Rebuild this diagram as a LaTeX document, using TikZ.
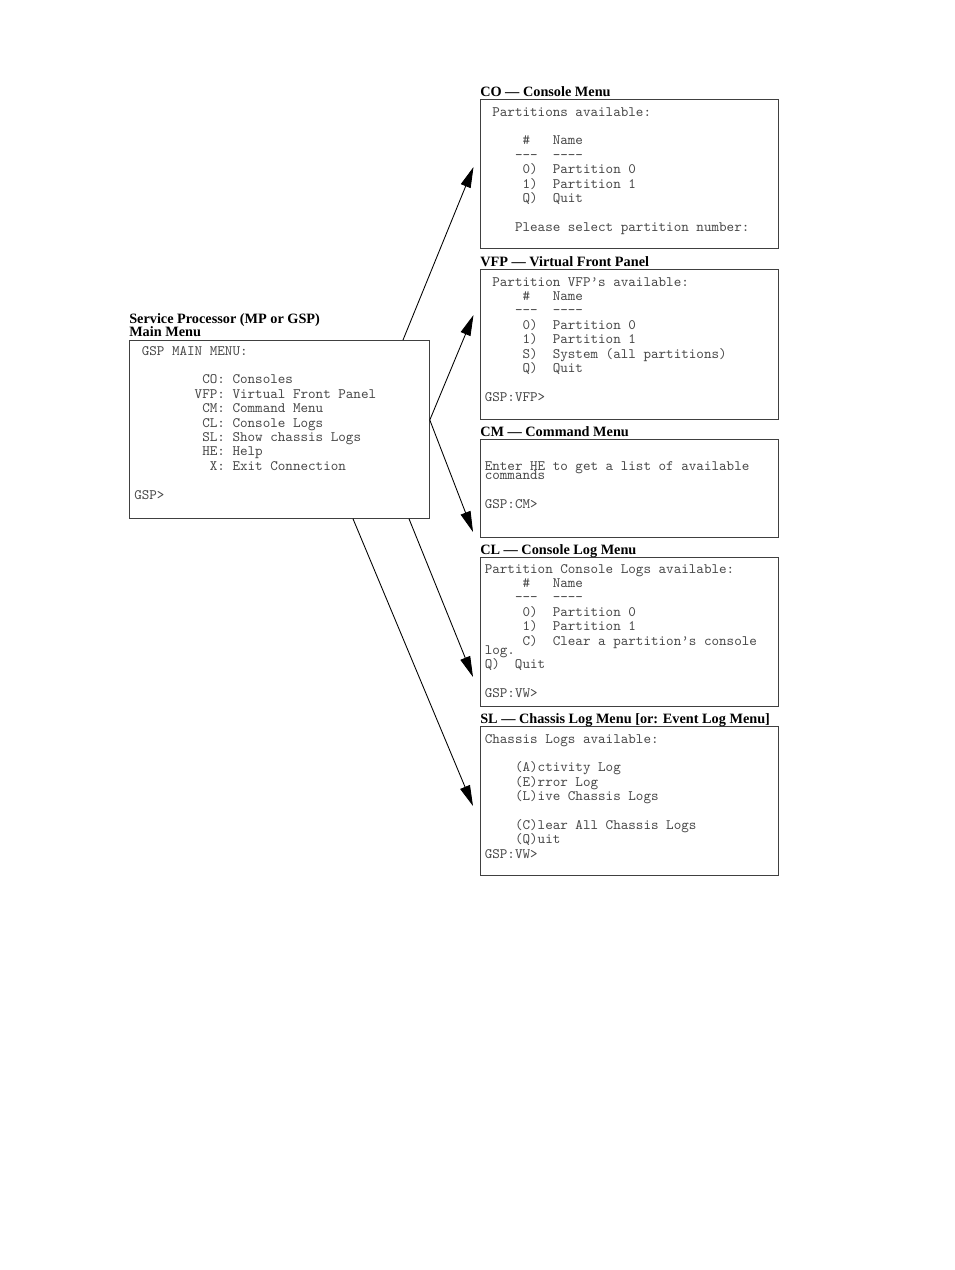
\documentclass[tikz,border=0pt]{standalone}
\usepackage{fontspec}
\setmainfont{Liberation Serif}
\usetikzlibrary{arrows.meta,calc}
\begin{document}
\begin{tikzpicture}[x=0.75pt,y=-0.75pt,
  menubox/.style={draw=black!75,line width=0.6pt,anchor=north west,inner sep=0pt,minimum width=223.5pt},
  ttl/.style={font=\fontsize{10.7}{12}\selectfont\bfseries,anchor=base west,inner sep=0pt},
  mono/.style={font=\ttfamily\fontsize{10.8}{12}\selectfont,text=black!72,anchor=mid west,inner sep=0pt,yshift=-1.5pt},
  arr/.style={-{Triangle[length=15.5pt,width=7.8pt]},line width=0.65pt}]
\path[fill=white] (0,0) rectangle (954,1270);
% boxes
\node[menubox,minimum width=225pt,minimum height=133.5pt] (main) at (129,340) {};
\node[menubox,minimum height=111.75pt] (co) at (480,99) {};
\node[menubox,minimum height=112.5pt] (vfp) at (480,269) {};
\node[menubox,minimum height=73.5pt] (cm) at (480,439) {};
\node[menubox,minimum height=111.75pt] (cl) at (480,557) {};
\node[menubox,minimum height=111.75pt] (sl) at (480,726) {};
% titles
\node[ttl] (tmain1) at (129,323.5) {Service Processor (MP or GSP)};
\node[ttl] (tmain2) at (129,336) {Main Menu};
\node[ttl] (tco) at (480,96) {CO — Console Menu};
\node[ttl] (tvfp) at (480,266) {VFP — Virtual Front Panel};
\node[ttl] (tcm) at (480,436) {CM — Command Menu};
\node[ttl] (tcl) at (480,554) {CL — Console Log Menu};
\node[ttl] (tsl) at (480,723) {SL — Chassis Log Menu [or: Event Log Menu]};
% main menu text
\foreach \k/\txt in {0/{~GSP MAIN MENU:},2/{~~~~~~~~~CO:~Consoles},3/{~~~~~~~~VFP:~Virtual Front Panel},
  4/{~~~~~~~~~CM:~Command Menu},5/{~~~~~~~~~CL:~Console Logs},6/{~~~~~~~~~SL:~Show chassis Logs},
  7/{~~~~~~~~~HE:~Help},8/{~~~~~~~~~~X:~Exit Connection},10/{GSP>}}
  \node[mono] (mm\k) at (134,350+\k*14.4) {\txt};
% CO text
\foreach \k/\txt in {0/{~Partitions available:},2/{~~~~~\#~~~Name},3/{~~~~-{}-{}-~~-{}-{}-{}-},
  4/{~~~~~0)~~Partition 0},5/{~~~~~1)~~Partition 1},6/{~~~~~Q)~~Quit},8/{~~~~Please select partition number:}}
  \node[mono] (co\k) at (484.5,111+\k*14.4) {\txt};
% VFP text
\foreach \k/\txt in {0/{~Partition VFP’s available:},1/{~~~~~\#~~~Name},2/{~~~~-{}-{}-~~-{}-{}-{}-},
  3/{~~~~~0)~~Partition 0},4/{~~~~~1)~~Partition 1},5/{~~~~~S)~~System (all partitions)},
  6/{~~~~~Q)~~Quit},8/{GSP:VFP>}}
  \node[mono] (vfp\k) at (484.5,281+\k*14.4) {\txt};
% CM text
\node[mono] (cm1) at (484.5,465) {Enter HE to get a list of available};
\node[mono] (cm2) at (484.5,474) {commands};
\node[mono] (cm3) at (484.5,503) {GSP:CM>};
% CL text
\foreach \k/\txt in {0/{Partition Console Logs available:},1/{~~~~~\#~~~Name},2/{~~~~-{}-{}-~~-{}-{}-{}-},
  3/{~~~~~0)~~Partition 0},4/{~~~~~1)~~Partition 1},5/{~~~~~C)~~Clear a partition’s console}}
  \node[mono] (cl\k) at (484.5,568+\k*14.4) {\txt};
\node[mono] (cl6) at (484.5,649) {log.};
\node[mono] (cl7) at (484.5,663) {Q)~~Quit};
\node[mono] (cl8) at (484.5,692) {GSP:VW>};
% SL text
\foreach \k/\txt in {0/{Chassis Logs available:},2/{~~~~(A)ctivity Log},3/{~~~~(E)rror Log},
  4/{~~~~(L)ive Chassis Logs},6/{~~~~(C)lear All Chassis Logs},7/{~~~~(Q)uit},8/{GSP:VW>}}
  \node[mono] (sl\k) at (484.5,738+\k*14.4) {\txt};
% arrows
\coordinate (sCO) at ($(main.north west)+(274,0)$);
\coordinate (sMid) at ($(main.north east)+(0,80)$);
\coordinate (sCL) at ($(main.south west)+(280,0)$);
\coordinate (sSL) at ($(main.south west)+(224,0)$);
\coordinate (eCO) at ($(co.north west)+(-6.5,68)$);
\coordinate (eVFP) at ($(vfp.north west)+(-6.5,46)$);
\coordinate (eCM) at ($(cm.north west)+(-7,93)$);
\coordinate (eCL) at ($(cl.north west)+(-7,120)$);
\coordinate (eSL) at ($(sl.north west)+(-7,80)$);
\draw[arr] (sCO) -- (eCO);
\draw[arr] (sMid) -- (eVFP);
\draw[arr] (sMid) -- (eCM);
\draw[arr] (sCL) -- (eCL);
\draw[arr] (sSL) -- (eSL);
\end{tikzpicture}
\end{document}
